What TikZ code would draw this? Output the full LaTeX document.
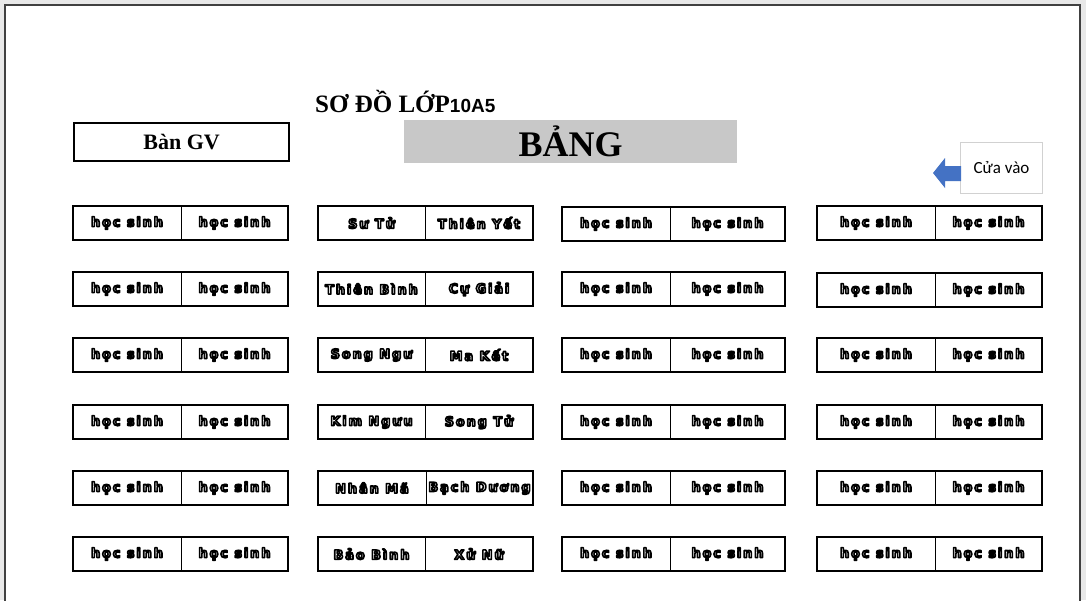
\documentclass[tikz,border=0pt]{standalone}
\usepackage{fontspec}
\newfontfamily\deskfont[LetterSpace=14]{DejaVu Sans Bold}
\newfontfamily\serifb{Liberation Serif Bold}
\newfontfamily\numfont{Liberation Sans Bold}
\newfontfamily\calib{Carlito}
\definecolor{boardgray}{HTML}{C8C8C8}
\definecolor{doorblue}{HTML}{4472C4}
\definecolor{pagegray}{HTML}{E8E8E8}
\newcommand\dk[1]{\special{pdf:literal direct 1 Tr 1.6 w 1 j}#1\special{pdf:literal direct 0 Tr}}
\newcommand\desk[7]{%
  \node[half, minimum width={#3pt-#2pt}] (#1L) at (#2,#5) {\dk{#6}};
  \node[half, minimum width={#4pt-#3pt}] (#1R) at (#3,#5) {\dk{#7}};
  \draw[deskframe] (#1L.north west) rectangle (#1R.south east);
}
\begin{document}
\begin{tikzpicture}[x=1pt,y=-1pt,
  half/.style={draw=black, line width=0.8pt, minimum height=34pt, inner sep=0pt,
    outer sep=0pt, anchor=north west, font=\deskfont\fontsize{13}{13}\selectfont},
  deskframe/.style={draw=black, line width=2.2pt},
  labelbox/.style={draw=black, line width=2.2pt, minimum width=215pt, minimum height=38pt, inner sep=0pt, anchor=north west},
]
\useasboundingbox (0,0) rectangle (1086,600);
\fill[pagegray] (0,0) rectangle (1086,600);
\draw[fill=white, draw=black!75, line width=1.5pt] (5,5) rectangle (1080,615);

% title
\node[anchor=west, inner sep=0pt] (title) at (315,101)
  {\serifb\fontsize{25}{25}\selectfont SƠ ĐỒ LỚP\numfont\fontsize{19}{19}\selectfont 10A5};

% teacher desk
\node[labelbox, font=\serifb\fontsize{22}{22}\selectfont] (gv) at (73,122) {Bàn GV};

% board
\node[fill=boardgray, minimum width=333pt, minimum height=43pt, inner sep=0pt, anchor=north west,
  font=\serifb\fontsize{36}{36}\selectfont] (bang) at (404,120) {BẢNG};

% door
\node[draw=black!18, line width=1pt, fill=white, minimum width=82pt, minimum height=51pt, inner sep=0pt,
  anchor=north west, font=\calib\fontsize{17}{17}\selectfont] (door) at (960,142) {Cửa vào};
\fill[doorblue] (933,173) -- (945,158) -- (945,166) -- (961,166) -- (961,181) -- (945,181) -- (945,188) -- cycle;

% column 1
\desk{a1}{73}{181}{288}{206}{học sinh}{học sinh}
\desk{a2}{73}{181}{288}{272}{học sinh}{học sinh}
\desk{a3}{73}{181}{288}{338}{học sinh}{học sinh}
\desk{a4}{73}{181}{288}{405}{học sinh}{học sinh}
\desk{a5}{73}{181}{288}{471}{học sinh}{học sinh}
\desk{a6}{73}{181}{288}{537}{học sinh}{học sinh}
% column 2
\desk{b1}{318}{425}{533}{206}{Sư Tử}{Thiên Yết}
\desk{b2}{318}{425}{533}{272}{Thiên Bình}{Cự Giải}
\desk{b3}{318}{425}{533}{338}{Song Ngư}{Ma Kết}
\desk{b4}{318}{425}{533}{405}{Kim Ngưu}{Song Tử}
\desk{b5}{318}{426}{533}{471}{Nhân Mã}{Bạch Dương}
\desk{b6}{318}{425}{533}{537}{Bảo Bình}{Xử Nữ}
% column 3
\desk{c1}{562}{670}{785}{207}{học sinh}{học sinh}
\desk{c2}{562}{670}{785}{272}{học sinh}{học sinh}
\desk{c3}{562}{670}{785}{338}{học sinh}{học sinh}
\desk{c4}{562}{670}{785}{405}{học sinh}{học sinh}
\desk{c5}{562}{670}{785}{471}{học sinh}{học sinh}
\desk{c6}{562}{670}{785}{537}{học sinh}{học sinh}
% column 4
\desk{d1}{817}{935}{1042}{206}{học sinh}{học sinh}
\desk{d2}{817}{935}{1042}{273}{học sinh}{học sinh}
\desk{d3}{817}{935}{1042}{338}{học sinh}{học sinh}
\desk{d4}{817}{935}{1042}{405}{học sinh}{học sinh}
\desk{d5}{817}{935}{1042}{471}{học sinh}{học sinh}
\desk{d6}{817}{935}{1042}{537}{học sinh}{học sinh}
\end{tikzpicture}
\end{document}
